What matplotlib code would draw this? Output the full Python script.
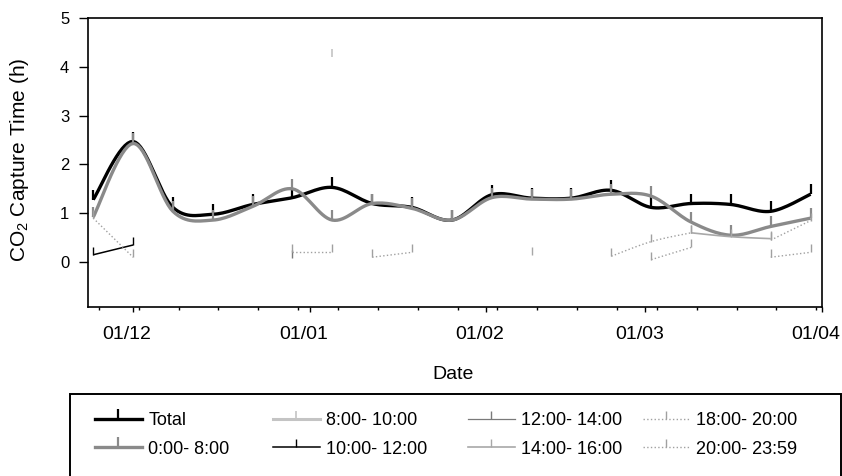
"""
CO2 capture time per day-part, weekly values Nov 2010 - Mar 2011.
"""

import numpy as np, pandas as pd
import matplotlib
matplotlib.use('Agg')
from matplotlib import pyplot as plt
import matplotlib.dates as mdates
import matplotlib.transforms as mtransforms
from matplotlib.lines import Line2D
from matplotlib.patches import Rectangle

nan = np.nan

dates = pd.to_datetime([
    '2010-11-24', '2010-12-01', '2010-12-08', '2010-12-15', '2010-12-22',
    '2010-12-29', '2011-01-05', '2011-01-12', '2011-01-19', '2011-01-26',
    '2011-02-02', '2011-02-09', '2011-02-16', '2011-02-23', '2011-03-02',
    '2011-03-09', '2011-03-16', '2011-03-23', '2011-03-30'])

total    = [1.28, 2.47, 1.12, 0.98, 1.18, 1.32, 1.53, 1.20, 1.12, 0.86,
            1.38, 1.31, 1.31, 1.47, 1.12, 1.20, 1.18, 1.04, 1.39]
h0_8     = [0.92, 2.43, 1.04, 0.86, 1.14, 1.50, 0.86, 1.20, 1.10, 0.86,
            1.32, 1.29, 1.29, 1.39, 1.35, 0.82, 0.55, 0.73, 0.90]
h8_10    = [nan, nan, nan, nan, nan, nan, 4.20, nan, nan, nan,
            nan, nan, nan, nan, nan, nan, nan, nan, nan]
h10_12   = [0.15, 0.35, nan, nan, nan, nan, nan, nan, nan, nan,
            nan, nan, nan, nan, nan, nan, nan, nan, nan]
h12_14   = [nan, nan, nan, nan, nan, 0.08, nan, nan, nan, nan,
            nan, nan, nan, nan, nan, nan, nan, nan, nan]
h14_16   = [nan, nan, nan, nan, nan, nan, nan, nan, nan, nan,
            nan, 0.15, nan, nan, nan, 0.60, 0.52, 0.48, nan]
h18_20   = [0.90, 0.10, nan, nan, nan, 0.20, 0.20, nan, nan, nan,
            nan, nan, nan, 0.12, 0.42, 0.60, nan, 0.45, 0.85]
h20_24   = [nan, nan, nan, nan, nan, nan, nan, 0.10, 0.20, nan,
            nan, nan, nan, nan, 0.05, 0.30, nan, 0.10, 0.20]

labels = ['Total', '0:00- 8:00', '8:00- 10:00', '10:00- 12:00',
          '12:00- 14:00', '14:00- 16:00', '18:00- 20:00', '20:00- 23:59']
series = [total, h0_8, h8_10, h10_12, h12_14, h14_16, h18_20, h20_24]

# colour, line width, line style, marker size, marker edge width
styles = [
    ('#000000', 2.4, '-', 7, 1.6),
    ('#8a8a8a', 2.4, '-', 7, 1.6),
    ('#c4c4c4', 2.2, '-', 6, 1.2),
    ('#000000', 1.1, '-', 6, 1.0),
    ('#7a7a7a', 0.9, '-', 6, 1.0),
    ('#a8a8a8', 1.2, '-', 6, 1.0),
    ('#a0a0a0', 1.0, ':', 6, 1.0),
    ('#a0a0a0', 1.0, ':', 6, 1.0),
]


def smooth(x, y, steps=16):
    """
    Catmull-Rom curve through the points (Excel style smoothed line)
    """
    x = np.asarray(x, float); y = np.asarray(y, float)
    if len(x) < 3:
        return x, y
    px = np.concatenate([[x[0]], x, [x[-1]]])
    py = np.concatenate([[y[0]], y, [y[-1]]])
    t = np.linspace(0, 1, steps, endpoint=False)[:, None]
    out = []
    for p in (px, py):
        p0, p1, p2, p3 = p[:-3], p[1:-2], p[2:-1], p[3:]
        c = 0.5*(2*p1 + (p2 - p0)*t + (2*p0 - 5*p1 + 4*p2 - p3)*t**2
                 + (-p0 + 3*p1 - 3*p2 + p3)*t**3)
        out.append(np.concatenate([c.T.ravel(), [p[-2]]]))
    return out[0], out[1]


plt.rcParams['font.family'] = ['Liberation Sans', 'DejaVu Sans']
plt.rcParams['mathtext.default'] = 'regular'

fig = plt.figure(figsize=(8.42, 4.76), dpi=100)
ax = fig.add_axes([88/842, 1 - 307/476, 734/842, 289/476])

xnum = mdates.date2num(dates)
handles = []
for vals, lab, (col, lw, ls, ms, mew) in zip(series, labels, styles):
    v = np.asarray(vals, float)
    ok = ~np.isnan(v)
    # split into runs of consecutive values
    idx = np.where(ok)[0]
    runs = np.split(idx, np.where(np.diff(idx) > 1)[0] + 1) if len(idx) else []
    for r in runs:
        if len(r) > 1:
            sx, sy = smooth(xnum[r], v[r])
            ax.plot(sx, sy, color=col, lw=lw, ls=ls, solid_capstyle='butt')
    ax.plot(xnum[ok], v[ok], ls='none', marker=2, ms=ms, mew=mew, color=col)
    handles.append(Line2D([], [], color=col, lw=lw, ls=ls, marker=2,
                          ms=ms, mew=mew, markevery=[1]))

ax.set_xlim(mdates.date2num(pd.Timestamp('2010-11-23 02:00')),
            mdates.date2num(pd.Timestamp('2011-04-01')))
ax.set_ylim(-0.92, 5)
ax.set_yticks(range(0, 6))

ax.xaxis.set_major_locator(mdates.MonthLocator())
ax.xaxis.set_major_formatter(mdates.DateFormatter('%d/%m'))
ax.xaxis.set_minor_locator(mdates.WeekdayLocator(byweekday=mdates.TH))

for s in ax.spines.values():
    s.set_linewidth(1.2)

ax.tick_params(axis='x', which='major', direction='out', length=3.5, width=1,
               pad=10, labelsize=14)
ax.tick_params(axis='x', which='minor', direction='out', length=2.5, width=1)
ax.tick_params(axis='y', direction='out', length=6.5, width=1, pad=7,
               labelsize=12)

# date labels sit a little left of their ticks
shift = mtransforms.ScaledTranslation(-6/100, 0, fig.dpi_scale_trans)
for lbl in ax.get_xticklabels():
    lbl.set_transform(lbl.get_transform() + shift)

ax.set_xlabel('Date', fontsize=14)
ax.xaxis.set_label_coords(0.497, -0.205)
ax.set_ylabel('CO$_2$ Capture Time (h)', fontsize=15)
ax.yaxis.set_label_coords(-0.077, 0.51)

# legend: one small legend per column, with one frame around all
col_x = [95, 273, 468, 643]
for i, x in enumerate(col_x):
    fig.legend(handles[2*i:2*i + 2], labels[2*i:2*i + 2], loc='center left',
               bbox_to_anchor=(x/842, 1 - 435/476), frameon=False,
               fontsize=13, handlelength=2.6, handletextpad=0.35,
               labelspacing=0.62, borderpad=0, borderaxespad=0)

fig.patches.append(Rectangle((70/842, -0.05), 771/842, 1 - 394/476 + 0.05,
                             transform=fig.transFigure, fill=False,
                             edgecolor='black', lw=1.4))

plt.savefig('out.png', dpi=100)
plt.close()
